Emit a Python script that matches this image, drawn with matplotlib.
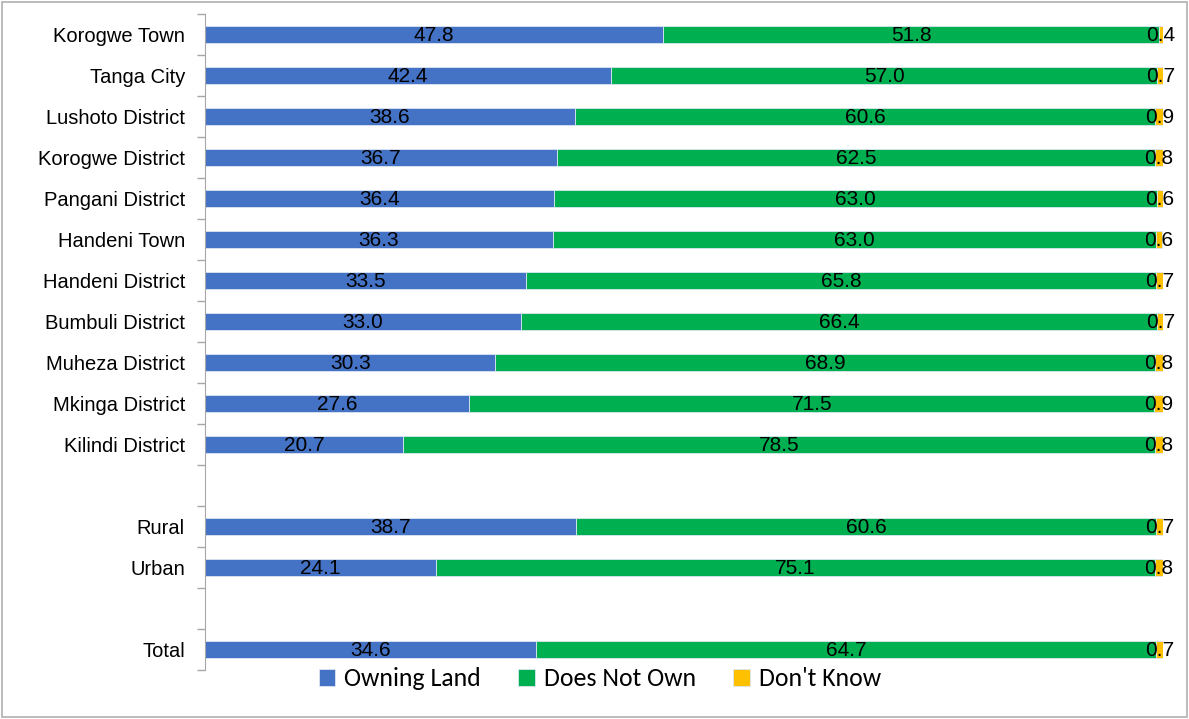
import matplotlib
matplotlib.use("Agg")
import matplotlib.pyplot as plt
from matplotlib.patches import Rectangle
from matplotlib import font_manager

categories = ["Korogwe Town", "Tanga City", "Lushoto District", "Korogwe District",
              "Pangani District", "Handeni Town", "Handeni District", "Bumbuli District",
              "Muheza District", "Mkinga District", "Kilindi District", "",
              "Rural", "Urban", "", "Total"]
owning = [47.8, 42.4, 38.6, 36.7, 36.4, 36.3, 33.5, 33.0, 30.3, 27.6, 20.7, None,
          38.7, 24.1, None, 34.6]
not_own = [51.8, 57.0, 60.6, 62.5, 63.0, 63.0, 65.8, 66.4, 68.9, 71.5, 78.5, None,
           60.6, 75.1, None, 64.7]
dont_know = [0.4, 0.7, 0.9, 0.8, 0.6, 0.6, 0.7, 0.7, 0.8, 0.9, 0.8, None,
             0.7, 0.8, None, 0.7]
series_names = ["Owning Land", "Does Not Own", "Don't Know"]
colors = ["#4472C4", "#00B050", "#FFC000"]

avail = {f.name for f in font_manager.fontManager.ttflist}
label_font = "Liberation Sans Narrow" if "Liberation Sans Narrow" in avail else "Liberation Sans"
legend_font = "Carlito" if "Carlito" in avail else "Open Sans"
legend_size = 18.5 if legend_font == "Carlito" else 16.5

fig = plt.figure(figsize=(11.89, 7.19), dpi=100)
ax = fig.add_axes([205/1189, 1-670/719, 958/1189, 656/719])

n = len(categories)
ypos = list(range(n))
left = [0.0]*n
handles = []
for vals, col, name in zip([owning, not_own, dont_know], colors, series_names):
    ys = [y for y, v in zip(ypos, vals) if v is not None]
    ws = [v for v in vals if v is not None]
    ls = [left[y] for y in ys]
    h = ax.barh(ys, ws, left=ls, height=0.4, color=col, edgecolor="#dce6f2", linewidth=0.6, label=name)
    handles.append(h)
    for y, w, l in zip(ys, ws, ls):
        ax.text(l + w/2, y + 0.03, f"{w:.1f}", ha="center", va="center", fontsize=15,
                family=label_font, color="black")
        left[y] = l + w

ax.set_xlim(0, 100)
ax.set_ylim(n - 0.5, -0.5)
ax.set_yticks(ypos)
ax.set_yticklabels(categories, family=label_font, fontsize=14.5)
ax.tick_params(axis="y", which="major", length=0, pad=14.4)
ax.set_yticks([y - 0.5 for y in range(n + 1)], minor=True)
ax.tick_params(axis="y", which="minor", length=6, color="#a6a6a6", width=1)
ax.set_xticks([])
for s in ["top", "right", "bottom"]:
    ax.spines[s].set_visible(False)
ax.spines["left"].set_color("#a6a6a6")

leg = fig.legend(handles=handles, labels=series_names, loc="center",
                 bbox_to_anchor=(600/1189, 1-679/719), ncol=3, frameon=False,
                 prop={"family": legend_font, "size": legend_size}, handlelength=0.65,
                 handleheight=0.65, handletextpad=0.35, columnspacing=1.45)

fig.patches.append(Rectangle((0.002, 0.003), 0.996, 0.994, transform=fig.transFigure,
                             fill=False, edgecolor="#b0b0b0", linewidth=1.2))
fig.savefig("out.png", dpi=100)
